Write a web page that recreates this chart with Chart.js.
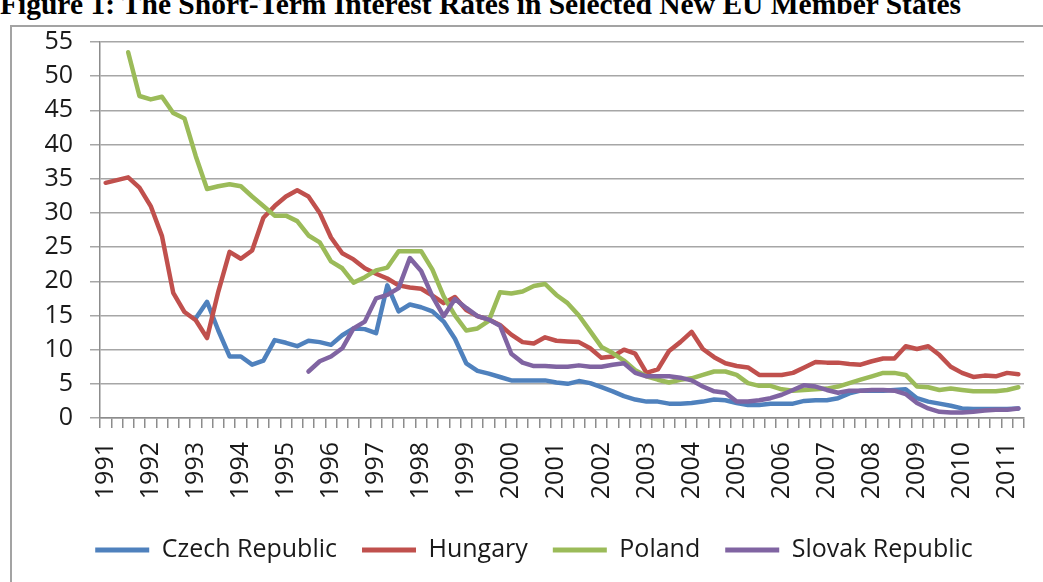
<!DOCTYPE html>
<html>
<head>
<meta charset="utf-8">
<script src="https://cdn.jsdelivr.net/npm/chart.js@4.4.0/dist/chart.umd.min.js"></script>
<style>
html,body{margin:0;padding:0;background:#fff;overflow:hidden;}
#wrap{position:relative;width:1043px;height:582px;overflow:hidden;background:#fff;}
#frame{position:absolute;left:10px;top:25px;width:1100px;height:600px;border-left:2px solid #a3a3a3;border-top:2px solid #a3a3a3;}
#title{position:absolute;left:0;top:-10px;font-family:"Liberation Serif","Times New Roman",serif;font-weight:bold;font-size:29.5px;line-height:1;white-space:nowrap;color:#000;}
canvas{position:absolute;left:0;top:0;}
</style>
</head>
<body>
<div id="wrap">
<div id="frame"></div>
<div id="title">Figure 1: The Short-Term Interest Rates in Selected New EU Member States</div>
<canvas id="c" width="1043" height="582"></canvas>
</div>
<script>
const quarters = [
"1991Q1","1991Q2","1991Q3","1991Q4","1992Q1","1992Q2","1992Q3","1992Q4",
"1993Q1","1993Q2","1993Q3","1993Q4","1994Q1","1994Q2","1994Q3","1994Q4",
"1995Q1","1995Q2","1995Q3","1995Q4","1996Q1","1996Q2","1996Q3","1996Q4",
"1997Q1","1997Q2","1997Q3","1997Q4","1998Q1","1998Q2","1998Q3","1998Q4",
"1999Q1","1999Q2","1999Q3","1999Q4","2000Q1","2000Q2","2000Q3","2000Q4",
"2001Q1","2001Q2","2001Q3","2001Q4","2002Q1","2002Q2","2002Q3","2002Q4",
"2003Q1","2003Q2","2003Q3","2003Q4","2004Q1","2004Q2","2004Q3","2004Q4",
"2005Q1","2005Q2","2005Q3","2005Q4","2006Q1","2006Q2","2006Q3","2006Q4",
"2007Q1","2007Q2","2007Q3","2007Q4","2008Q1","2008Q2","2008Q3","2008Q4",
"2009Q1","2009Q2","2009Q3","2009Q4","2010Q1","2010Q2","2010Q3","2010Q4",
"2011Q1","2011Q2"];

const seriesNames = ["Czech Republic","Hungary","Poland","Slovak Republic"];

const czech = [null,null,null,null,null,null,null,null,
14.6,17.0,12.8,9.0,9.0,7.8,8.4,11.4,11.0,10.5,11.3,11.1,10.7,12.1,13.1,13.0,
12.4,19.4,15.6,16.6,16.2,15.6,14.1,11.6,8.0,6.9,6.5,6.0,5.5,5.5,5.5,5.5,
5.2,5.0,5.4,5.1,4.5,3.9,3.2,2.7,2.4,2.4,2.1,2.1,2.2,2.4,2.7,2.6,
2.2,1.9,1.9,2.1,2.1,2.1,2.5,2.6,2.6,2.9,3.6,4.0,4.0,4.0,4.1,4.2,
2.9,2.4,2.1,1.8,1.4,1.3,1.3,1.3,1.3,1.4];

const hungary = [34.4,34.8,35.2,33.7,31.0,26.6,18.3,15.5,14.3,11.7,
18.5,24.3,23.3,24.5,29.3,31.0,32.4,33.3,32.4,30.0,
26.4,24.1,23.2,21.9,21.1,20.4,19.4,19.1,18.9,17.9,
16.8,17.7,15.8,14.9,14.4,13.6,12.2,11.1,10.9,11.8,
11.3,11.2,11.1,10.2,8.8,9.0,10.0,9.4,6.6,7.1,
9.8,11.1,12.6,10.1,8.9,8.0,7.6,7.4,6.3,6.3,
6.3,6.6,7.4,8.2,8.1,8.1,7.9,7.8,8.3,8.7,
8.7,10.5,10.1,10.5,9.2,7.5,6.6,6.0,6.2,6.1,
6.6,6.4];

const poland = [null,null,53.5,47.1,46.6,47.0,44.6,43.8,38.3,33.5,
33.9,34.2,33.9,32.4,31.0,29.6,29.6,28.8,26.7,25.7,
22.9,21.9,19.8,20.6,21.6,22.0,24.4,24.4,24.4,21.7,
17.8,15.0,12.8,13.1,14.2,18.4,18.2,18.5,19.3,19.6,
18.0,16.8,15.0,12.7,10.4,9.5,8.4,7.0,6.1,5.6,
5.2,5.6,5.8,6.3,6.8,6.8,6.3,5.1,4.7,4.7,
4.2,4.0,4.1,4.2,4.3,4.6,5.1,5.6,6.1,6.6,
6.6,6.3,4.6,4.5,4.1,4.3,4.1,3.9,3.9,3.9,
4.1,4.5];

const slovak = [null,null,null,null,null,null,null,null,null,null,
null,null,null,null,null,null,null,null,
6.8,8.3,9.0,10.2,13.1,14.1,17.5,18.0,19.0,23.4,
21.5,17.8,14.9,17.4,16.1,14.9,14.4,13.5,9.4,8.1,
7.6,7.6,7.5,7.5,7.7,7.5,7.5,7.8,8.0,6.6,
6.1,6.1,6.1,5.9,5.5,4.6,3.9,3.7,2.4,2.4,
2.6,2.9,3.4,4.1,4.8,4.6,4.1,3.7,4.0,4.0,
4.1,4.1,4.0,3.5,2.2,1.4,0.9,0.8,0.8,0.9,
1.1,1.2,1.2,1.4];

const colors = ["#4F81BD","#C0504D","#9BBB59","#8064A2"];
const yMin = 0, yMax = 55, yStep = 5;

const txtColor = "#1a1a1a";
const tickFont = {family:"Open Sans", size:25};

function ds(label, data, color, order){
  return {label, data, borderColor:color, backgroundColor:color, borderWidth:4.5,
    pointRadius:0, pointHoverRadius:0, tension:0, fill:false, spanGaps:false,
    borderJoinStyle:"round", borderCapStyle:"round", order};
}

new Chart(document.getElementById("c"), {
  type:"line",
  data:{
    labels:quarters,
    datasets:[
      ds(seriesNames[0], czech, colors[0], 4),
      ds(seriesNames[1], hungary, colors[1], 3),
      ds(seriesNames[2], poland, colors[2], 2),
      ds(seriesNames[3], slovak, colors[3], 1)
    ]
  },
  options:{
    responsive:false, animation:false, events:[],
    layout:{padding:{left:44,right:19,top:42,bottom:9.5}},
    plugins:{
      tooltip:{enabled:false},
      title:{display:false},
      legend:{
        position:"bottom",
        labels:{
          boxWidth:54, boxHeight:5, padding:25, color:txtColor,
          font:{family:"Open Sans", size:25},
          sort:(a,b)=>a.datasetIndex-b.datasetIndex,
          generateLabels(chart){
            const items = Chart.defaults.plugins.legend.labels.generateLabels(chart);
            items.forEach(it=>{ it.fillStyle = it.strokeStyle; it.lineWidth = 0; });
            return items;
          }
        }
      }
    },
    scales:{
      x:{
        type:"category",
        offset:true,
        grid:{offset:true, drawOnChartArea:false, drawTicks:true, tickLength:10, color:"#8c8c8c", lineWidth:1.5},
        border:{display:true, color:"#8c8c8c", width:1.5},
        ticks:{
          autoSkip:false, minRotation:90, maxRotation:90, padding:14,
          color:txtColor, font:tickFont,
          callback(v, i){ const q = quarters[i]; return q.endsWith("Q1") ? q.slice(0,4) : ""; }
        },
        afterFit(s){ s.height = 94.5; s.paddingLeft = 0; s.paddingRight = 0; }
      },
      y:{
        min:yMin, max:yMax,
        grid:{color:"#a6a6a6", lineWidth:1.5, tickLength:10, drawTicks:true},
        border:{display:true, color:"#8c8c8c", width:1.5},
        ticks:{stepSize:yStep, padding:17, color:txtColor, font:tickFont},
        afterFit(s){ s.width = 56; s.paddingTop = 0; s.paddingBottom = 0; }
      }
    }
  }
});
</script>
</body>
</html>
